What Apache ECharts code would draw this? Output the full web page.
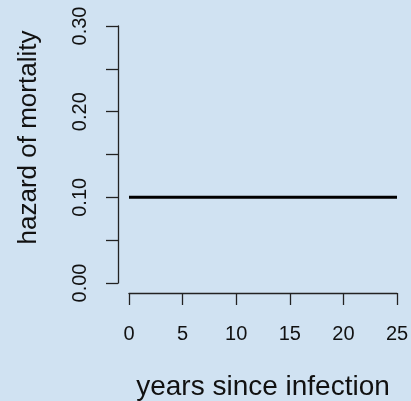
<!DOCTYPE html>
<html>
<head>
<meta charset="utf-8">
<script src="https://cdn.jsdelivr.net/npm/echarts@6/dist/echarts.min.js"></script>
<style>
  html, body { margin: 0; padding: 0; background: #d0e2f2; }
  #main { width: 411px; height: 401px; }
</style>
</head>
<body>
<div id="main"></div>
<script>
var years = [0, 5, 10, 15, 20, 25];
var hazard = [0.1, 0.1, 0.1, 0.1, 0.1, 0.1];
var yLabels = ['0.00', '0.10', '0.20', '0.30'];

var myChart = echarts.init(document.getElementById('main'));

var font = "'Liberation Sans', Arial, Helvetica, sans-serif";
var axisCol = '#222';

var option = {
    backgroundColor: '#d0e2f2',
    animation: false,
    grid: { left: 129, right: 14, top: 26, bottom: 118, containLabel: false, outerBoundsMode: 'none' },
    xAxis: {
        type: 'value',
        min: 0, max: 25, interval: 5,
        offset: 10,
        name: 'years since infection',
        nameLocation: 'middle',
        nameGap: 80,
        nameTextStyle: { fontFamily: font, fontSize: 28, color: '#111' },
        axisLine: { show: true, onZero: false, lineStyle: { color: axisCol, width: 1.3 } },
        axisTick: { show: true, length: 12, lineStyle: { color: axisCol, width: 1.3 } },
        axisLabel: { margin: 31, fontFamily: font, fontSize: 20, color: '#111' },
        splitLine: { show: false }
    },
    yAxis: {
        type: 'value',
        min: 0, max: 0.3, interval: 0.05,
        offset: 11,
        name: 'hazard of mortality',
        nameLocation: 'middle',
        nameRotate: 90,
        nameGap: 76,
        nameTextStyle: { fontFamily: font, fontSize: 26, color: '#111', padding: [0, 0, 0, 34] },
        axisLine: { show: true, onZero: false, lineStyle: { color: axisCol, width: 1.3 } },
        axisTick: { show: true, length: 12, lineStyle: { color: axisCol, width: 1.3 } },
        axisLabel: {
            rotate: 90, margin: 28, fontFamily: font, fontSize: 20, color: '#111',
            formatter: function (v) {
                var s = v.toFixed(2);
                return yLabels.indexOf(s) >= 0 ? s : '';
            }
        },
        splitLine: { show: false }
    },
    series: [
        {
            name: 'hazard',
            type: 'line',
            data: years.map(function (y, i) { return [y, hazard[i]]; }),
            symbol: 'none',
            lineStyle: { color: '#000', width: 3 }
        }
    ]
};

myChart.setOption(option);
</script>
</body>
</html>
